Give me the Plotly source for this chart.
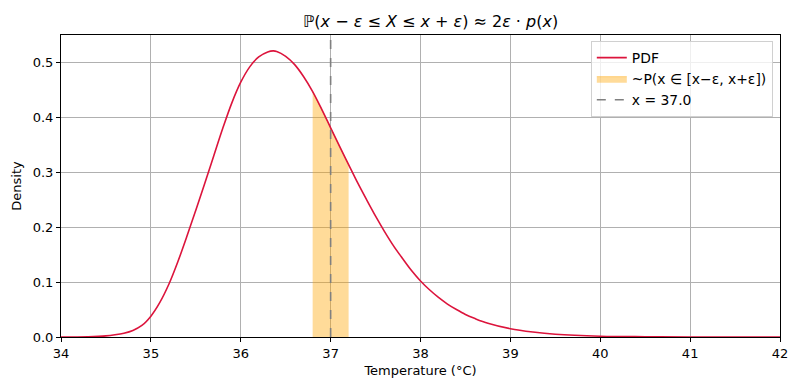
import plotly.graph_objects as go

# PDF curve
x_pdf = [34.0, 34.3, 34.5, 34.6, 34.7, 34.8, 34.9, 35.0, 35.1, 35.2, 35.3, 35.4, 35.5,
         35.6, 35.7, 35.8, 35.9, 36.0, 36.1, 36.2, 36.3, 36.36, 36.4, 36.5, 36.6, 36.7,
         36.8, 36.9, 37.0, 37.1, 37.2, 37.3, 37.4, 37.5, 37.6, 37.7, 37.8,
         37.9, 38.0, 38.1, 38.2, 38.3, 38.4, 38.5, 38.6, 38.75, 39.0, 39.25, 39.5, 40.0,
         40.5, 41.0, 42.0]
y_pdf = [0.0, 0.0005, 0.002, 0.004, 0.007, 0.012, 0.021, 0.038, 0.063, 0.096, 0.137, 0.183, 0.231,
         0.280, 0.330, 0.380, 0.426, 0.464, 0.492, 0.510, 0.519, 0.521, 0.520, 0.511, 0.496, 0.474,
         0.447, 0.415, 0.381, 0.347, 0.314, 0.281, 0.250, 0.220, 0.192, 0.166, 0.143,
         0.121, 0.102, 0.086, 0.072, 0.060, 0.050, 0.041, 0.034, 0.025, 0.015, 0.009, 0.005, 0.0015,
         0.0005, 0.0001, 0.0]

# shaded interval [x-eps, x+eps]
x_fill = [36.8, 36.9, 37.0, 37.1, 37.2]
y_fill = [0.447, 0.415, 0.381, 0.347, 0.314]

x0 = 37.0
y_max = 0.55

x_ticks = [34, 35, 36, 37, 38, 39, 40, 41, 42]
y_ticks = [0.0, 0.1, 0.2, 0.3, 0.4, 0.5]

FS = 13.9

fig = go.Figure()
fig.add_trace(go.Scatter(x=x_fill, y=y_fill, mode="lines", name="~P(x ∈ [x−ε, x+ε])",
                         fill="tozeroy", fillcolor="rgba(255,165,0,0.4)", legendrank=2,
                         line=dict(color="rgba(255,165,0,0.45)", width=1)))
fig.add_trace(go.Scatter(x=x_pdf, y=y_pdf, mode="lines", name="PDF", legendrank=1,
                         line=dict(color="#DC143C", width=1.6, shape="spline", smoothing=1.0)))
fig.add_trace(go.Scatter(x=[x0, x0], y=[0, y_max], mode="lines", name="x = 37.0", legendrank=3,
                         line=dict(color="gray", width=1.6, dash="dash")))

axis_common = dict(showline=True, linecolor="black", linewidth=1, mirror=True,
                   showgrid=True, gridcolor="#b0b0b0", gridwidth=1, zeroline=False,
                   ticks="outside", ticklen=4, tickcolor="black",
                   tickfont=dict(size=13, color="black"))

fig.update_xaxes(range=[34, 42], tickvals=x_ticks,
                 title=dict(text="Temperature (°C)", font=dict(size=13, color="black"), standoff=6),
                 **axis_common)
fig.update_yaxes(range=[0, y_max], tickvals=y_ticks, ticktext=[f"{v:.1f}" for v in y_ticks],
                 title=dict(text="Density", font=dict(size=13, color="black"), standoff=8),
                 **axis_common)

fig.update_layout(
    width=790, height=382,
    margin=dict(l=53, r=18, t=27, b=53, autoexpand=False),
    paper_bgcolor="white", plot_bgcolor="white",
    font=dict(family="DejaVu Sans", color="black"),
    title=dict(text="ℙ(<i>x</i> − <i>ε</i> ≤ <i>X</i> ≤ <i>x</i> + <i>ε</i>) ≈ 2<i>ε</i> · <i>p</i>(<i>x</i>)",
               x=0.535, xanchor="center", y=0.965, yanchor="middle",
               font=dict(size=16, color="black")),
    legend=dict(x=0.99, y=0.98, xanchor="right", yanchor="top",
                bgcolor="rgba(255,255,255,0.8)", bordercolor="#d0d0d0", borderwidth=1,
                font=dict(size=FS, color="black"), tracegroupgap=0),
    showlegend=True,
)

fig.write_html("out.html")
